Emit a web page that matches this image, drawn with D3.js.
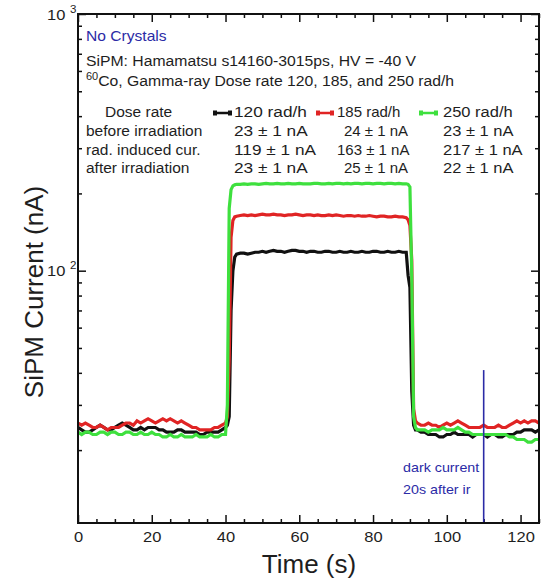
<!DOCTYPE html>
<html><head><meta charset="utf-8">
<script src="https://cdn.jsdelivr.net/npm/d3@7"></script>
<style>
body{margin:0;background:#fff;}
svg{display:block;font-family:"Liberation Sans",Arial,sans-serif;}
svg text{font-family:"Liberation Sans",Arial,sans-serif;}
</style></head>
<body><svg id="chart" width="544" height="582"></svg>
<script>
// ---- data ----
const times = [
 0,1,2,3,4,5,6,7,8,9,10,11,12,13,14,15,16,17,18,19,20,21,22,23,24,25,26,27,28,29,30,31,32,33,34,35,36,37,38,39,40,
 40.5,41,41.5,42,42.5,
 43,44,45,46,47,48,49,50,51,52,53,54,55,56,57,58,59,60,61,62,63,64,65,66,67,68,69,70,71,72,73,74,75,76,77,78,79,80,81,82,83,84,85,86,87,88,89,
 89.5,90,90.5,91,91.5,
 92,93,94,95,96,97,98,99,100,101,102,103,104,105,106,107,108,109,110,111,112,113,114,115,116,117,118,119,120,121,122,123,124,125
];
const current120 = [
 24.5,24,23.5,23.5,24,24.5,25,24.5,24,24,
 24.5,25,25.5,25,24.5,24,24,24.5,24,24.5,
 24.5,24.5,24,24,23.5,23.5,23.5,24,24,23.5,
 23.5,23.5,23.5,23,23,23.5,23.5,23.5,23.5,24,
 24.5,
 25,27,70,100,113,
 116,117,117,116,117,118,118,119,118,119,
 120,119,119,118,119,120,120,119,119,118,
 119,119,118,118,119,119,118,118,119,118,
 118,119,118,118,119,118,118,119,119,118,
 118,119,118,118,119,118,118,
 96,86,34,25,24,
 24,23.5,23.5,23,23,23,22.5,22.5,23,23,
 23.5,23,23,23,23,22.5,23,23,23,22.5,
 23,23,22.5,22.5,23,23,23,23.5,23.5,24,
 24,24,23.5,24
];
const current185 = [
 25.5,25,25.5,25,24.5,24.5,25,24.5,24,24.5,
 24.5,24.5,25,25.5,25.5,25,26,25.5,26,26.5,
 26,25.5,26,26.5,26,26.5,26,25.5,26,25.5,
 25,24.5,24.5,24,24,24,24,24.5,24.5,25,
 25.5,
 27,45,135,157,162,
 163,164,165,164,165,164,165,166,165,165,
 166,165,165,164,165,165,166,165,164,165,
 165,164,165,164,164,165,164,165,164,163,
 164,164,163,164,163,163,164,163,162,163,
 163,162,162,163,162,162,161,
 158,150,110,29,26,
 25.5,25,25,25.5,25,25,24.5,25,25.5,25,
 25.5,26,25.5,25,24.5,24.5,24.5,24.5,25,24.5,
 24.5,24.5,25,24.5,24.5,25,25.5,26,25.5,26,
 25.5,26,26,25.5
];
const current250 = [
 23.5,23,23.5,23.5,23,23,23.5,23.5,23,23.5,
 23.5,23,23,23.5,23.5,23,23,23.5,23,23,
 23.5,23,23,22.5,22.5,23,22.5,22.5,23,22.5,
 22.5,22.5,23,22.5,22.5,22.5,23,22.5,22.5,23,
 23,
 30,175,207,214,216,
 217,217,218,217,218,218,217,218,219,218,
 218,219,218,218,219,218,218,219,218,218,
 218,219,219,218,218,219,218,219,219,218,
 219,218,219,219,218,219,219,218,219,219,
 218,219,219,218,219,218,218,
 217,212,95,27,24.5,
 24,24,24,23.5,24,24,24,24.5,24,24,
 24,24.5,24,23.5,23.5,23,23,23,23,23,
 23,23,23,23,23,22.5,22.5,22,22,22,
 21.5,21.5,22,22
];
const seriesNames = ["120 rad/h","185 rad/h","250 rad/h"];
const seriesColors = ["#111111","#e02424","#3ee03e"];
const beforeIrr = ["23 \u00b1 1 nA","24 \u00b1 1 nA","23 \u00b1 1 nA"];
const radInduced = ["119 \u00b1 1 nA","163 \u00b1 1 nA","217 \u00b1 1 nA"];
const afterIrr = ["23 \u00b1 1 nA","25 \u00b1 1 nA","22 \u00b1 1 nA"];
const rowLabels = ["Dose rate","before irradiation","rad. induced cur.","after irradiation"];
const xMajorTicks = [0,20,40,60,80,100,120];
const xMinorTicks = [5,10,15,25,30,35,45,50,55,65,70,75,85,90,95,105,110,115,125];
const yMajorTicks = [100,1000];
const yMinorTicks = [20,30,40,50,60,70,80,90,200,300,400,500,600,700,800,900];
const darkMarkTime = 110;
const darkMarkTop = 41;

// ---- layout ----
const svg = d3.select("#chart");
const L=78, R=539, T=14, B=523;
const x = d3.scaleLinear().domain([0,125]).range([L,R]);
const y = d3.scaleLog().domain([10.4,1000]).range([B,T]);
const textCol = "#1e1e1e";
const blue = "#2b2ba6";
const FF = "Liberation Sans, Arial, sans-serif";

// text helper with horizontal stretch
function label(px, py, str, size, sx, color, anchor){
  const g = svg.append("g").attr("transform",`translate(${px},${py}) scale(${sx},1)`);
  const t = g.append("text").attr("font-size",size).attr("fill",color||textCol)
    .attr("font-family",FF).attr("text-anchor",anchor||"start");
  if(str!==null) t.text(str);
  return t;
}

// axes
function styleAxis(g){ g.select(".domain").remove(); g.selectAll("line").attr("stroke","#111").attr("stroke-width",1.5); }
const xb = svg.append("g").attr("transform",`translate(0,${B})`)
  .call(d3.axisBottom(x).tickValues(xMajorTicks).tickSize(-8).tickFormat(""))
  .call(styleAxis);
xb.selectAll(".tick").each(function(d){
  d3.select(this).append("g").attr("transform","translate(0,19) scale(1.1,1)")
    .append("text").attr("text-anchor","middle").attr("font-size",15).attr("font-family",FF)
    .attr("fill",textCol).text(d);
});
svg.append("g").attr("transform",`translate(0,${B})`)
  .call(d3.axisBottom(x).tickValues(xMinorTicks).tickSize(-4).tickFormat(""))
  .call(styleAxis);
svg.append("g").attr("transform",`translate(0,${T})`)
  .call(d3.axisTop(x).tickValues(xMajorTicks).tickSize(-8).tickFormat(""))
  .call(styleAxis);
svg.append("g").attr("transform",`translate(0,${T})`)
  .call(d3.axisTop(x).tickValues(xMinorTicks).tickSize(-4).tickFormat(""))
  .call(styleAxis);
const yl = svg.append("g").attr("transform",`translate(${L},0)`)
  .call(d3.axisLeft(y).tickValues(yMajorTicks).tickSize(-8).tickFormat(""))
  .call(styleAxis);
yl.selectAll(".tick").each(function(d){
  const g = d3.select(this).append("g").attr("transform","translate(-31,5) scale(1.1,1)");
  g.append("text").attr("text-anchor","start").attr("font-size",15).attr("font-family",FF)
    .attr("fill",textCol).text("10");
  g.append("text").attr("text-anchor","start").attr("x",21).attr("y",-7).attr("font-size",10.5)
    .attr("font-family",FF).attr("fill",textCol).text(Math.round(Math.log10(d)));
});
svg.append("g").attr("transform",`translate(${L},0)`)
  .call(d3.axisLeft(y).tickValues(yMinorTicks).tickSize(-4).tickFormat(""))
  .call(styleAxis);
svg.append("g").attr("transform",`translate(${R},0)`)
  .call(d3.axisRight(y).tickValues(yMajorTicks).tickSize(-8).tickFormat(""))
  .call(styleAxis);
svg.append("g").attr("transform",`translate(${R},0)`)
  .call(d3.axisRight(y).tickValues(yMinorTicks).tickSize(-4).tickFormat(""))
  .call(styleAxis);

// series
const seriesData = [current120,current185,current250];
const line = d3.line().x(d=>x(d[0])).y(d=>y(d[1]));
seriesData.forEach((vals,i)=>{
  svg.append("path").datum(times.map((t,k)=>[t,vals[k]]))
    .attr("d",line).attr("fill","none").attr("stroke",seriesColors[i])
    .attr("stroke-width",3.2).attr("stroke-linejoin","miter");
});

// dark current marker
svg.append("line").attr("x1",x(darkMarkTime)).attr("x2",x(darkMarkTime))
  .attr("y1",y(darkMarkTop)).attr("y2",B).attr("stroke",blue).attr("stroke-width",1.6);
label(403,472,"dark current",13,1.1,blue);
label(403,494,"20s after ir",13,1.1,blue);

// frame
svg.append("rect").attr("x",L).attr("y",T).attr("width",R-L).attr("height",B-T)
  .attr("fill","none").attr("stroke","#111").attr("stroke-width",2);

// header texts
label(86,41,"No Crystals",15,1.04,blue);
label(86,66,"SiPM: Hamamatsu s14160-3015ps, HV = -40 V",15,1.05);
const co = label(86,86,null,15,1.05);
co.append("tspan").attr("font-size",10.5).attr("dy",-6).text("60");
co.append("tspan").attr("dy",6).text("Co, Gamma-ray Dose rate 120, 185, and 250 rad/h");

// table
const rowY = [117,136,155,173];
label(105,rowY[0],rowLabels[0],15.5,1.0);
rowLabels.slice(1).forEach((r,i)=> label(86,rowY[i+1],r,15.5,1.0));
const colX = [234,337,443];
const colSx = [1.15,1.0,1.1];
const symX = [[213,232],[316,334],[419,438]];
seriesNames.forEach((n,i)=>{
  const cx = colX[i];
  label(cx,rowY[0],n,15,colSx[i]);
  [beforeIrr[i],radInduced[i],afterIrr[i]].forEach((v,j)=>{
    let xx = cx;
    if(i===1 && j!==1) xx = cx+7;
    label(xx,rowY[j+1],v,15,colSx[i]);
  });
  const sy = rowY[0]-4;
  const [a,b] = symX[i];
  svg.append("line").attr("x1",a).attr("x2",b).attr("y1",sy).attr("y2",sy)
    .attr("stroke",seriesColors[i]).attr("stroke-width",2.5);
  svg.append("rect").attr("x",a).attr("y",sy-2.5).attr("width",4).attr("height",5).attr("fill",seriesColors[i]);
  svg.append("rect").attr("x",b-4).attr("y",sy-2.5).attr("width",4).attr("height",5).attr("fill",seriesColors[i]);
});

// axis titles
label(309,573,"Time (s)",26,1.0,textCol,"middle");
svg.append("text").attr("transform","translate(43,292) rotate(-90)").attr("text-anchor","middle")
  .attr("font-size",26).attr("font-family",FF).attr("fill",textCol).text("SiPM Current (nA)");
</script></body></html>
